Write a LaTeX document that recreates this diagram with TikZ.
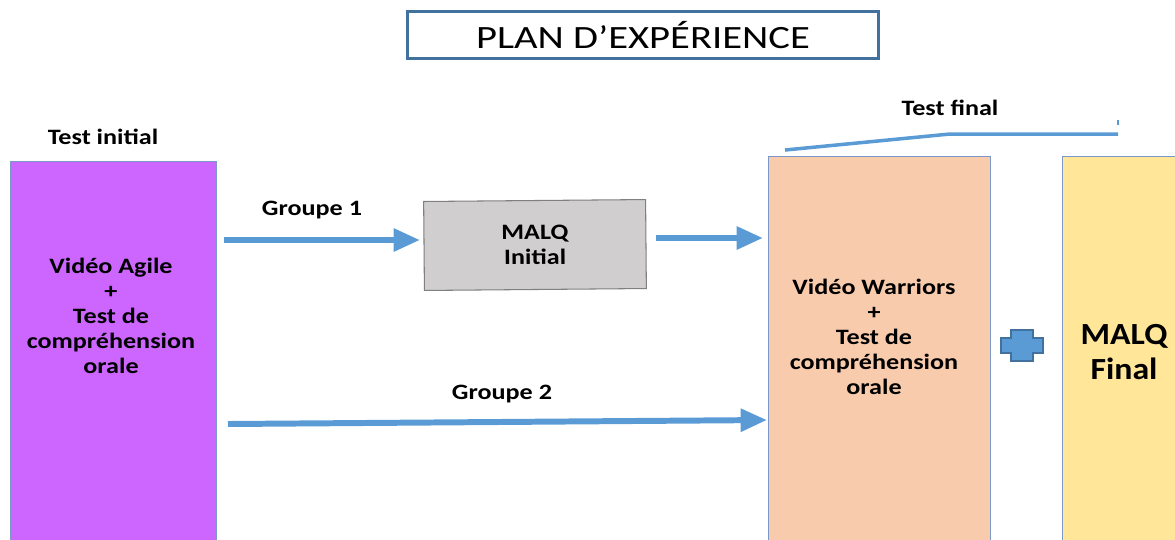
\documentclass[tikz,border=0pt]{standalone}
\usepackage{fontspec}
\setmainfont{Carlito}
\newfontfamily\widefont[FakeStretch=1.19]{Carlito}
\newfontfamily\titlefont[FakeStretch=1.25]{Carlito}
\newfontfamily\finalfont[FakeStretch=1.1]{Carlito}
\usetikzlibrary{arrows.meta}
\definecolor{flowblue}{HTML}{5B9BD5}
\definecolor{titleblue}{HTML}{41719C}
\definecolor{edgeblue}{HTML}{7A98C8}
\definecolor{agile}{HTML}{CC66FF}
\definecolor{warriors}{HTML}{F8CBAD}
\definecolor{final}{HTML}{FFE699}
\definecolor{malqgray}{HTML}{D0CECE}

\begin{document}
\begin{tikzpicture}[x=0.02cm, y=-0.02cm, >={Triangle[length=15pt,width=12.5pt]},
    flow/.style={->, flowblue, line width=3.4pt},
    lbl/.style={font=\widefont\bfseries\fontsize{12.5}{14.2}\selectfont, align=center},
    block/.style={draw=edgeblue, line width=0.6pt, anchor=north west, inner sep=0pt}]
    \clip (0,0) rectangle (1175,539);

    % Title
    \node[draw=titleblue, line width=1.7pt, minimum width=9.44cm, minimum height=0.94cm,
          font=\titlefont\fontsize{18.5}{20}\selectfont] (title) at (643,35) {PLAN D’EXPÉRIENCE};

    % Boxes
    \node[block, fill=agile, minimum width=4.12cm, minimum height=8cm] (agile) at (10,161) {};
    \node[block, fill=warriors, minimum width=4.44cm, minimum height=8cm] (warriors) at (768,156) {};
    \node[block, fill=final, minimum width=3cm, minimum height=8cm] (final) at (1062,156) {};
    \node[draw=gray, fill=malqgray, line width=0.6pt, minimum width=4.44cm, minimum height=1.78cm,
          rotate=0.5, lbl] (malqi) at (535,245) {MALQ\\Initial};

    % Texts
    \node[lbl] (agiletxt) at (111,316) {Vidéo Agile\\+\\Test de\\compréhension\\orale};
    \node[lbl] (warrtxt) at (874,337) {Vidéo Warriors\\+\\Test de\\compréhension\\orale};
    \node[font=\finalfont\bfseries\fontsize{17.5}{20}\selectfont, align=center] (finaltxt) at (1124,352) {MALQ\\Final};
    \node[lbl] (tinit) at (103,137) {Test initial};
    \node[lbl] (tfinal) at (950,108) {Test final};
    \node[lbl] (g1) at (312,210) {Groupe 1};
    \node[lbl] (g2) at (502,394) {Groupe 2};

    % Arrow ends
    \coordinate (a1s) at (224,240);
    \coordinate (a1e) at (420,240);
    \coordinate (a2s) at (656,238);
    \coordinate (a2e) at (763,238);
    \coordinate (a3s) at (228,424);
    \coordinate (a3e) at (767,420);

    % Edges
    \draw[flow] (a1s) -- (a1e);
    \draw[flow] (a2s) -- (a2e);
    \draw[flow] (a3s) -- (a3e);

    % Test final bracket
    \coordinate (b1) at (785,150);
    \coordinate (b2) at (950,134);
    \coordinate (b3) at (1118,134);
    \draw[flowblue, line width=2pt] (b1) -- (b2) -- (b3);
    \draw[flowblue, line width=0.6pt] (1118,120) -- (1118,125);

    % Plus
    \filldraw[fill=flowblue, draw=titleblue, line width=0.8pt]
        (1011,330) -- (1033,330) -- (1033,338) -- (1043,338) -- (1043,353) -- (1033,353)
        -- (1033,361) -- (1011,361) -- (1011,353) -- (1001,353) -- (1001,338) -- (1011,338) -- cycle;
\end{tikzpicture}
\end{document}
